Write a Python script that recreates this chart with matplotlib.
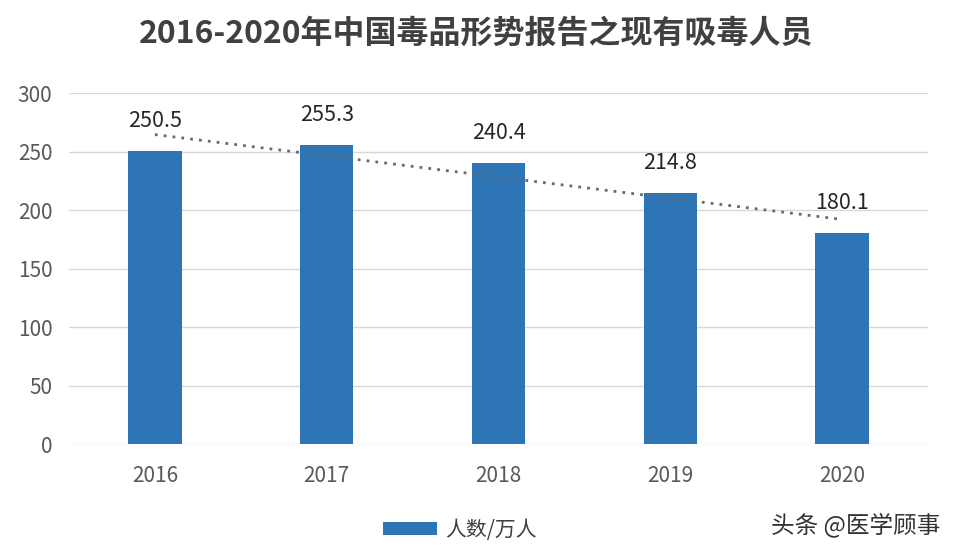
import matplotlib
matplotlib.use('Agg')
import matplotlib.pyplot as plt
import numpy as np

plt.rcParams['font.family'] = ['Noto Sans CJK SC', 'DejaVu Sans']

years = ['2016', '2017', '2018', '2019', '2020']
users = [250.5, 255.3, 240.4, 214.8, 180.1]
yticks = [0, 50, 100, 150, 200, 250, 300]

fig = plt.figure(figsize=(9.54, 5.58), dpi=100)
ax = fig.add_axes([0.0723, 0.2043, 0.9004, 0.629])

x = np.arange(len(years))
bars = ax.bar(x, users, width=0.31, color='#2E75B6', label='人数/万人', zorder=3)

# linear trendline
k, b = np.polyfit(x, users, 1)
ax.plot(x, k * x + b, ls=(0, (1, 2.2)), lw=2, color='#5f6b78', zorder=4)

for xi, v in zip(x, users):
    ax.text(xi, v + 25.5, f'{v}', ha='center', va='center', fontsize=15.5, color='#262626')

ax.set_xlim(-0.5, 4.5)
ax.set_ylim(0, 300)
ax.set_yticks(yticks)
ax.set_xticks(x)
ax.set_xticklabels(years)
ax.tick_params(axis='both', length=0, labelsize=15, labelcolor='#595959')
ax.tick_params(axis='x', pad=15)
ax.tick_params(axis='y', pad=12)
ax.grid(axis='y', color='#d9d9d9', lw=1, zorder=0)
for s in ax.spines.values():
    s.set_visible(False)

fig.text(0.499, 0.94, '2016-2020年中国毒品形势报告之现有吸毒人员', ha='center', va='center',
         fontsize=23, fontweight='bold', color='#404040')

fig.legend(handles=[bars], labels=['人数/万人'], loc='center', bbox_to_anchor=(0.482, 0.05),
           frameon=False, fontsize=15, handlelength=2.6, handleheight=0.6, handletextpad=0.4,
           labelcolor='#404040')

fig.text(0.986, 0.06, '头条 @医学顾事', ha='right', va='center', fontsize=17, color='#333333')

fig.savefig('out.png', dpi=100, facecolor='white')
